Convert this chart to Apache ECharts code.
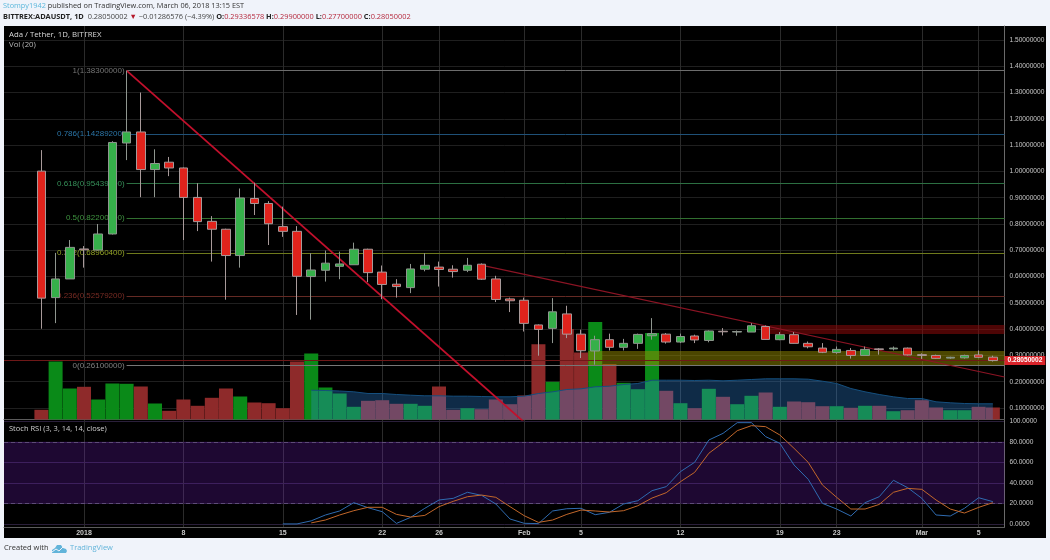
<!DOCTYPE html>
<html>
<head>
<meta charset="utf-8">
<title>ADA / USDT daily</title>
<script src="https://cdn.jsdelivr.net/npm/echarts@6/dist/echarts.min.js"></script>
<style>
html,body{margin:0;padding:0;background:#f0f3fa;}
#chart{width:1050px;height:560px;}
</style>
</head>
<body>
<div id="chart"></div>
<script>
// Daily session numbers counted from 1 January 2018 (-3 is 29 December 2017).
const days = [-3,-2,-1,0,1,2,3,4,5,6,7,8,9,10,11,12,13,14,15,16,17,18,19,20,21,22,23,24,25,26,27,28,29,30,31,32,33,34,35,36,37,38,39,40,41,42,43,44,45,46,47,48,49,50,51,52,53,54,55,56,57,58,59,60,61,62,63,64];
const opens  = [1.001,.520,.591,.705,.701,.762,1.108,1.150,1.007,1.035,1.013,.901,.810,.780,.680,.897,.878,.790,.772,.600,.624,.639,.645,.704,.617,.571,.558,.628,.636,.628,.624,.647,.591,.515,.510,.416,.403,.458,.381,.317,.360,.331,.346,.375,.381,.351,.374,.357,.392,.389,.389,.410,.360,.379,.346,.328,.311,.319,.300,.325,.325,.328,.303,.300,.290,.291,.302,.29336578];
const closes = [.518,.591,.711,.702,.762,1.110,1.150,1.007,1.030,1.013,.901,.809,.780,.680,.899,.878,.801,.772,.601,.625,.651,.648,.704,.615,.570,.562,.629,.643,.627,.619,.643,.590,.513,.508,.422,.399,.466,.381,.318,.360,.331,.346,.380,.383,.351,.372,.359,.393,.390,.391,.413,.361,.379,.346,.333,.312,.323,.300,.323,.323,.328,.302,.300,.289,.293,.300,.293,.28050002];
const lows   = [.4016,.423,.591,.634,.700,.760,1.043,.902,.902,.982,.739,.773,.657,.512,.634,.834,.720,.751,.454,.436,.581,.590,.645,.579,.514,.520,.537,.620,.562,.596,.617,.587,.503,.465,.391,.299,.347,.366,.290,.265,.319,.319,.325,.360,.345,.347,.347,.350,.376,.375,.389,.360,.358,.345,.327,.309,.306,.288,.299,.303,.319,.300,.287,.287,.287,.288,.290,.277];
const highs  = [1.081,.690,.739,.716,.800,1.115,1.383,1.300,1.084,1.055,1.015,.955,.830,.782,.935,.957,.887,.866,.792,.689,.699,.695,.729,.706,.642,.590,.648,.689,.657,.643,.671,.650,.603,.520,.520,.418,.518,.489,.398,.375,.383,.363,.383,.442,.385,.383,.379,.395,.404,.395,.423,.414,.389,.389,.353,.347,.334,.328,.334,.328,.334,.330,.308,.303,.295,.303,.319,.299];

// Traded volume for each session, and its 20-session moving average from 17 January on.
const volumes = [.97,5.8,3.1,3.27,2.0,3.6,3.57,3.3,1.6,.87,2.0,1.37,2.17,3.1,2.3,1.7,1.63,1.13,5.8,6.6,3.2,2.6,1.27,1.87,1.93,1.57,1.57,1.37,3.3,.97,1.13,1.03,2.0,1.53,2.4,7.53,3.77,9.05,6.7,9.75,5.55,3.67,3.03,8.65,2.87,1.63,1.13,3.07,2.27,1.53,2.37,2.7,1.27,1.8,1.73,1.33,1.33,1.17,1.37,1.37,.83,.93,1.93,1.2,.93,.93,1.27,1.2];
const volumeAverageDays = [16,17,18,19,20,21,22,23,24,25,26,27,28,29,30,31,32,33,34,35,36,37,38,39,40,41,42,43,44,45,46,47,48,49,50,51,52,53,54,55,56,57,58,59,60,61,62,63,64];
const volumeAverage = [2.93,2.9,2.85,2.77,2.6,2.6,2.5,2.43,2.37,2.37,2.33,2.33,2.3,2.27,2.27,2.33,2.6,2.77,3.0,3.07,3.27,3.33,3.5,3.6,3.93,3.93,3.93,3.9,3.93,3.87,3.93,4.0,4.07,4.07,4.07,4.03,3.83,3.6,3.1,2.77,2.5,2.27,2.1,2.1,1.77,1.67,1.6,1.57,1.57];

// Stochastic RSI lines.
const stochKDays = [14,15,16,17,18,19,20,21,22,23,24,25,26,27,28,29,30,31,32,33,34,35,36,37,38,39,40,41,42,43,44,45,46,47,48,49,50,51,52,53,54,55,56,57,58,59,60,61,62,63,64];
const stochK = [0,0,3,8.7,12.6,20.7,15.8,11.9,.5,6.4,15.2,23.3,24.9,30.8,27.8,19.4,4.8,.6,.3,12.6,14.8,15.2,9,11.3,19.4,22.6,32.4,36.3,50.9,60,81.7,88.2,98.6,98.6,85,78.5,57.4,43.4,20,14.5,7.7,20.7,26.5,42.5,35.3,24.9,8.7,7.7,15.2,25.5,21.7];
const stochDDays = [16,17,18,19,20,21,22,23,24,25,26,27,28,29,30,31,32,33,34,35,36,37,38,39,40,41,42,43,44,45,46,47,48,49,50,51,52,53,54,55,56,57,58,59,60,61,62,63,64];
const stochD = [1,3.8,8.7,12.9,16.2,16.2,9.3,6.7,8.3,16.8,22,26.5,28.1,25.9,16.8,8,1.5,3.8,9.3,13.5,12.6,11.6,12.9,17.7,25.2,30.4,41.1,50.2,68.8,79.1,90.8,95.7,94.7,86.6,73.6,59.9,37.9,25.9,14.5,14.5,19,30.8,34.6,33.7,23.3,14.5,10.6,16.1,20.7];

// Fibonacci retracement drawn from the 4 January high.
const fibRatios = ['1','0.786','0.618','0.5','0.382','0.236','0'];
const fibPrices = [1.383,1.142892,.954396,.822,.689604,.525792,.261];
const fibValueTexts = ['1.38300000','1.14289200','0.95439600','0.82200000','0.68960400','0.52579200','0.26100000'];
const fibColors = ['#6d6d6d','#1f5178','#2c6f42','#316f30','#6f7a1c','#652a24','#777777'];
const fibLabelColors = ['#757575','#2b76a8','#36915a','#3f9440','#93a326','#7a2c24','#808080'];

// Hand-drawn trend lines and support / resistance zones.
const steepTrend = [[3,1.383],[31,.046]];
const shallowTrend = [[28.3,.640],[64.82,.218]];
const resistanceZone = [48.3,.4156,.3815];
const supportZone = [35.5,.317,.262];

// Axis labels.
const dayTicks = [0,7,14,21,25,31,35,42,49,53,59,63];
const dayTickLabels = ['2018','8','15','22','26','Feb','5','12','19','23','Mar','5'];
const priceTicks = [.1,.2,.3,.4,.5,.6,.7,.8,.9,1,1.1,1.2,1.3,1.4,1.5];
const stochTicks = [0,20,40,60,80,100];

const lastClose = closes[closes.length - 1];
const dayMin = -5.634, dayMax = 64.82;
const axisText = '#c8c8c8';
const mono = 'Liberation Sans';
const textFont = '"Open Sans"';

const sessionIsUp = days.map((d, i) => closes[i] >= opens[i]);

const chart = echarts.init(document.getElementById('chart'), null, {renderer: 'canvas'});

const xBase = {
  type: 'value', min: dayMin, max: dayMax,
  axisTick: {show: false, customValues: dayTicks},
  splitLine: {show: true, lineStyle: {color: '#2b2b2b', width: 1}},
  axisLine: {show: true, onZero: false, lineStyle: {color: '#5c5c5c'}}
};

const option = {
  animation: false,
  backgroundColor: '#f0f3fa',
  graphic: [
    {type: 'rect', z: -5, silent: true, shape: {x: 4, y: 26, width: 1042, height: 512}, style: {fill: '#000'}},
    {type: 'text', left: 3, top: 2, silent: true, style: {
      text: '{u|Stompy1942}{t| published on TradingView.com, March 06, 2018 13:15 EST}',
      rich: {u: {fill: '#5cb8dc', font: '7.35px ' + textFont}, t: {fill: '#333', font: '7.35px ' + textFont}}
    }},
    {type: 'text', left: 3, top: 13, silent: true, style: {
      text: '{b|BITTREX:ADAUSDT, 1D}{g|  0.28050002 }{r|▼}{g| −0.01286576 (−4.39%) }{b|O:}{v|0.29336578}{b| H:}{v|0.29900000}{b| L:}{v|0.27700000}{b| C:}{v|0.28050002}',
      rich: {
        b: {fill: '#222', font: 'bold 7.4px ' + textFont},
        g: {fill: '#444', font: '7.4px ' + textFont},
        r: {fill: '#b5182a', font: '7.4px ' + textFont},
        v: {fill: '#b5283c', font: '7.4px ' + textFont}
      }
    }},
    {type: 'text', left: 9, top: 31, silent: true, style: {text: 'Ada / Tether, 1D, BITTREX', fill: '#d8d8d8', font: '7.8px ' + textFont}},
    {type: 'text', left: 9, top: 41, silent: true, style: {text: 'Vol (20)', fill: '#b8b8b8', font: '7.8px ' + textFont}},
    {type: 'text', left: 9, top: 425, silent: true, style: {text: 'Stoch RSI (3, 3, 14, 14, close)', fill: '#d0d0d0', font: '7.5px ' + textFont}},
    {type: 'text', left: 4, top: 544, silent: true, style: {text: 'Created with', fill: '#333', font: '7.5px ' + textFont}},
    {type: 'text', left: 70, top: 544, silent: true, style: {text: 'TradingView', fill: '#62b4da', font: '7.5px ' + textFont}},
    {type: 'polygon', silent: true, shape: {points: [[52,553],[52,550],[55,548],[57,545],[61,545],[63,548],[66,549],[67,551],[66,553]]}, style: {fill: '#62b4da'}},
    {type: 'polyline', silent: true, z: 2, shape: {points: [[52,552],[56,549],[59,551],[63,547]]}, style: {stroke: '#f0f3fa', lineWidth: 1, fill: 'none'}}
  ],
  grid: [
    {left: 4, right: 45.5, top: 26, height: 393.5},
    {left: 4, right: 45.5, top: 420, height: 107}
  ],
  xAxis: [
    Object.assign({}, xBase, {gridIndex: 0, axisLabel: {show: false}}),
    Object.assign({}, xBase, {gridIndex: 1, axisLabel: {
      show: true, customValues: dayTicks, color: axisText, margin: 3, fontSize: 7, fontWeight: 'bold', fontFamily: mono,
      formatter: v => dayTickLabels[dayTicks.indexOf(v)]
    }})
  ],
  yAxis: [
    {
      type: 'value', gridIndex: 0, position: 'right', min: .0564, max: 1.553,
      axisLine: {show: true, onZero: false, lineStyle: {color: '#6a6a6a'}},
      axisTick: {show: false, customValues: priceTicks},
      axisLabel: {customValues: priceTicks, color: axisText, margin: 5, fontSize: 6.6, fontFamily: mono, formatter: v => v.toFixed(8)},
      splitLine: {show: true, lineStyle: {color: '#1f1f1f'}}
    },
    {type: 'value', gridIndex: 0, min: 0, max: 39.35, show: false},
    {
      type: 'value', gridIndex: 1, position: 'right', min: -3, max: 101.2,
      axisLine: {show: true, onZero: false, lineStyle: {color: '#6a6a6a'}},
      axisTick: {show: false, customValues: stochTicks},
      axisLabel: {customValues: stochTicks, color: axisText, margin: 5, fontSize: 6.6, fontFamily: mono, formatter: v => v.toFixed(4)},
      splitLine: {show: true, lineStyle: {color: '#2a1f3a'}}
    }
  ],
  series: [
    {
      name: 'Volume', type: 'bar', xAxisIndex: 0, yAxisIndex: 1, z: 1, barWidth: 14, silent: true,
      data: days.map((d, i) => ({
        value: [d, volumes[i]],
        itemStyle: {color: sessionIsUp[i] ? '#0a8a18' : '#8e2a2a'}
      }))
    },
    {
      name: 'Volume MA', type: 'line', xAxisIndex: 0, yAxisIndex: 1, z: 2, symbol: 'none', silent: true,
      data: volumeAverageDays.map((d, i) => [d, volumeAverage[i]]),
      lineStyle: {color: '#154f7e', width: 1},
      areaStyle: {color: 'rgba(50,145,240,0.42)', origin: 'start'}
    },
    {
      name: 'Steep trend', type: 'line', xAxisIndex: 0, yAxisIndex: 0, z: 4, symbol: 'none', silent: true,
      data: steepTrend,
      lineStyle: {color: '#c2102c', width: 1.8},
      markArea: {
        silent: true, z: 3,
        data: [
          [{coord: [resistanceZone[0], resistanceZone[1]], itemStyle: {color: 'rgba(140,10,10,0.55)'}}, {coord: [dayMax, resistanceZone[2]]}],
          [{coord: [supportZone[0], supportZone[1]], itemStyle: {color: 'rgba(150,140,0,0.5)'}}, {coord: [dayMax, supportZone[2]]}]
        ]
      },
      markLine: {
        silent: true, symbol: 'none', z: 3, precision: 8,
        data: fibPrices.map((p, i) => [
          {
            coord: [3, p],
            lineStyle: {color: fibColors[i], type: 'solid', width: 1},
            label: {show: true, position: 'start', distance: 2, color: fibLabelColors[i], fontSize: 8, fontFamily: mono, formatter: fibRatios[i] + '(' + fibValueTexts[i] + ')'}
          },
          {coord: [dayMax, p]}
        ])
      }
    },
    {
      name: 'Shallow trend', type: 'line', xAxisIndex: 0, yAxisIndex: 0, z: 4, symbol: 'none', silent: true,
      data: shallowTrend,
      lineStyle: {color: '#8c1424', width: 1.2}
    },
    {
      name: 'ADAUSDT', type: 'candlestick', xAxisIndex: 0, yAxisIndex: 0, z: 6, barWidth: 9, silent: true,
      encode: {x: 0, y: [1, 2, 3, 4]},
      data: days.map((d, i) => [d, opens[i], closes[i], lows[i], highs[i]]),
      itemStyle: {color: '#36b04a', color0: '#e0231c', borderColor: '#8f968f', borderColor0: '#a89a9a', borderWidth: 1},
      markLine: {
        silent: true, symbol: 'none', z: 3, precision: 8,
        data: [{
          yAxis: lastClose,
          lineStyle: {color: '#6e1818', type: 'solid', width: 1},
          label: {
            show: true, position: 'end', distance: 0, formatter: lastClose.toFixed(8),
            color: '#fff', fontSize: 6.6, fontWeight: 'bold', fontFamily: mono,
            backgroundColor: '#d9232a', padding: [1, 3, 1, 3]
          }
        }]
      }
    },
    {
      name: 'Stoch K', type: 'line', xAxisIndex: 1, yAxisIndex: 2, z: 5, symbol: 'none', silent: true,
      data: stochKDays.map((d, i) => [d, stochK[i]]),
      lineStyle: {color: '#2f6bb0', width: 1},
      markArea: {
        silent: true, z: 1,
        data: [[{coord: [dayMin, 80], itemStyle: {color: 'rgba(120,30,200,0.25)'}}, {coord: [dayMax, 20]}]]
      },
      markLine: {
        silent: true, symbol: 'none', z: 2,
        data: [80, 20].map(v => ({
          yAxis: v,
          label: {show: false},
          lineStyle: {color: '#5e4c78', type: [4, 3], width: 1}
        }))
      }
    },
    {
      name: 'Stoch D', type: 'line', xAxisIndex: 1, yAxisIndex: 2, z: 5, symbol: 'none', silent: true,
      data: stochDDays.map((d, i) => [d, stochD[i]]),
      lineStyle: {color: '#c2672a', width: 1}
    }
  ]
};

chart.setOption(option);
</script>
</body>
</html>
